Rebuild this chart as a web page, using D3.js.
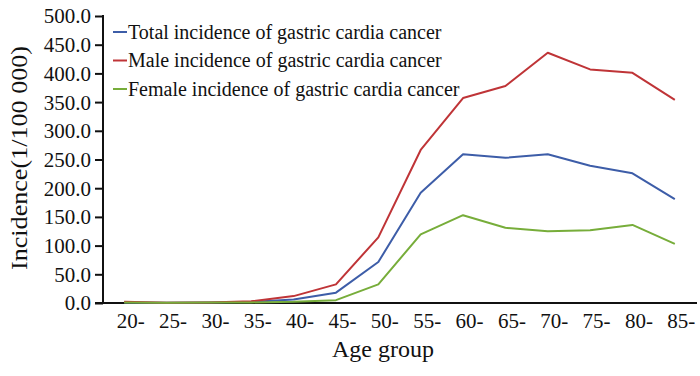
<!DOCTYPE html>
<html>
<head>
<meta charset="utf-8">
<script src="https://cdn.jsdelivr.net/npm/d3@7"></script>
<style>
  body { margin: 0; background: #fff; }
  svg text { font-family: "Times New Roman", "Liberation Serif", Times, serif !important; fill: #111; }
</style>
</head>
<body>
<div id="chart"></div>
<script>
// DATA
const ageGroups = ["20-", "25-", "30-", "35-", "40-", "45-", "50-", "55-", "60-", "65-", "70-", "75-", "80-", "85-"];
const totalIncidence = [1.0, 0.5, 1.0, 2.0, 6.0, 18.0, 71.4, 192.0, 259.0, 253.0, 259.0, 239.0, 226.0, 181.0];
const maleIncidence = [2.0, 0.5, 1.0, 3.0, 12.0, 32.5, 114.4, 266.6, 357.0, 378.0, 436.0, 407.0, 401.0, 354.0];
const femaleIncidence = [1.0, 0.3, 0.8, 1.0, 2.0, 5.0, 32.5, 119.6, 153.0, 131.0, 125.0, 126.6, 136.0, 103.0];
const yTicks = [0, 50, 100, 150, 200, 250, 300, 350, 400, 450, 500];
const seriesNames = [
  "Total incidence of gastric cardia cancer",
  "Male incidence of gastric cardia cancer",
  "Female incidence of gastric cardia cancer"
];

const WIDTH = 700, HEIGHT = 376;
const COLORS = ["#3d5da8", "#bf3437", "#77ad3a"];
const FONT = '"Times New Roman", "Liberation Serif", serif';

// CANVAS
const svg = d3
  .select("#chart")
  .append("svg")
  .attr("width", WIDTH)
  .attr("height", HEIGHT)
  .style("font-family", FONT);

// SCALE
const x = d3.scalePoint().domain(ageGroups).range([103, 696]).padding(0.5);
const y = d3.scaleLinear().domain([0, 500]).range([303, 16]);

// AXIS
svg
  .append("g")
  .attr("transform", "translate(103, 0)")
  .call(d3.axisLeft(y).tickValues(yTicks).tickSize(8).tickPadding(4).tickFormat(d3.format(".1f")))
  .attr("font-family", null)
  .call((g) => {
    g.select(".domain").attr("stroke", "#111").attr("stroke-width", 2).attr("d", "M0,303V15");
    g.selectAll(".tick line").attr("stroke", "#111").attr("stroke-width", 2);
    g.selectAll(".tick text")
      .style("font-size", "21px")
      .style("font-family", FONT)
      .attr("fill", "#111")
      .attr("dy", "0.33em");
  });

svg
  .append("g")
  .attr("transform", "translate(0, 303)")
  .call(d3.axisBottom(x).tickSize(0).tickPadding(10))
  .attr("font-family", null)
  .call((g) => {
    g.select(".domain").attr("stroke", "#111").attr("stroke-width", 2).attr("d", "M95,0H697");
    g.selectAll(".tick text")
      .style("font-size", "21px")
      .style("font-family", FONT)
      .attr("fill", "#111")
      .attr("dx", "6");
  });

// LABELS
svg
  .append("text")
  .attr("x", 383)
  .attr("y", 357)
  .attr("text-anchor", "middle")
  .style("font-size", "24px")
  .text("Age group");

svg
  .append("text")
  .attr("transform", "translate(27, 158) rotate(-90)")
  .attr("text-anchor", "middle")
  .attr("textLength", 224)
  .attr("lengthAdjust", "spacingAndGlyphs")
  .style("font-size", "24px")
  .text("Incidence(1/100 000)");

// LINES
const line = d3
  .line()
  .x((d, i) => x(ageGroups[i]))
  .y((d) => y(d));

[totalIncidence, maleIncidence, femaleIncidence].forEach((series, i) => {
  svg
    .append("path")
    .datum(series)
    .attr("fill", "none")
    .attr("stroke", COLORS[i])
    .attr("stroke-width", 2)
    .attr("stroke-linejoin", "round")
    .attr("d", line);
});

// LEGEND
const legend = svg
  .selectAll(".legend")
  .data(seriesNames)
  .enter()
  .append("g")
  .attr("transform", (d, i) => `translate(113, ${32 + i * 28.5})`);

legend
  .append("line")
  .attr("x1", 0)
  .attr("x2", 14)
  .attr("stroke", (d, i) => COLORS[i])
  .attr("stroke-width", 2);

legend
  .append("text")
  .attr("x", 15)
  .attr("dy", "0.33em")
  .style("font-size", "20px")
  .text((d) => d);
</script>
</body>
</html>
